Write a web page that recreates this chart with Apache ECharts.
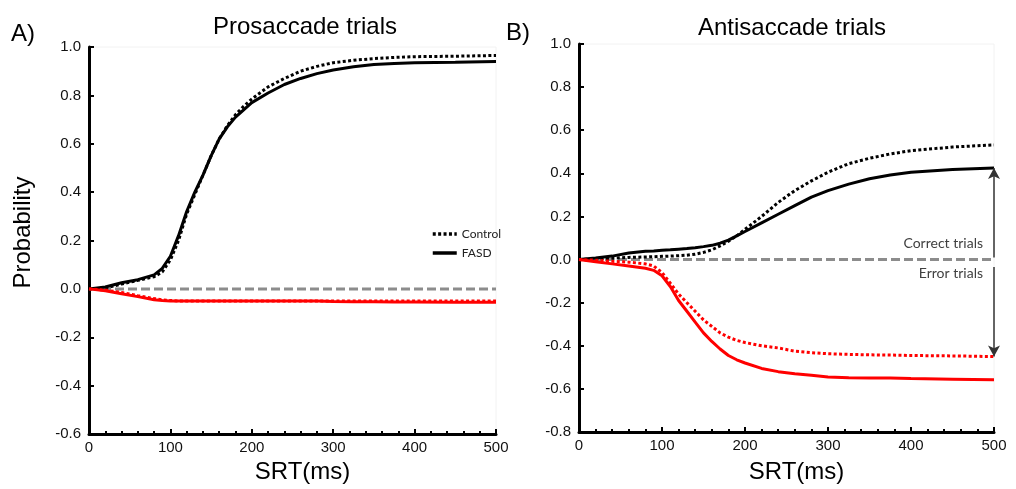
<!DOCTYPE html>
<html>
<head>
<meta charset="utf-8">
<script src="https://cdn.jsdelivr.net/npm/echarts@6/dist/echarts.min.js"></script>
<style>
  html, body { margin: 0; padding: 0; background: #fff; }
  #chart { width: 1016px; height: 489px; }
</style>
</head>
<body>
<div id="chart"></div>
<script>
// ---- Data ----
const srt = [0, 20, 40, 60, 80, 90, 100, 110, 120, 130, 140, 150, 160, 170, 180, 190, 200, 220, 240, 260, 280, 300, 325, 350, 375, 400, 450, 500];

// Panel A: Prosaccade trials
const proControlCorrect = [0, 0.004, 0.02, 0.035, 0.05, 0.07, 0.12, 0.2, 0.31, 0.39, 0.47, 0.55, 0.62, 0.675, 0.72, 0.755, 0.785, 0.835, 0.87, 0.9, 0.92, 0.935, 0.945, 0.952, 0.957, 0.96, 0.962, 0.965];
const proFasdCorrect    = [0, 0.008, 0.025, 0.038, 0.058, 0.085, 0.135, 0.22, 0.32, 0.4, 0.47, 0.55, 0.62, 0.67, 0.71, 0.74, 0.77, 0.81, 0.845, 0.87, 0.89, 0.905, 0.918, 0.928, 0.932, 0.935, 0.937, 0.94];
const proControlError   = [0, -0.005, -0.015, -0.028, -0.04, -0.045, -0.048, -0.05, -0.05, -0.05, -0.05, -0.05, -0.05, -0.05, -0.05, -0.05, -0.05, -0.05, -0.05, -0.05, -0.05, -0.05, -0.05, -0.05, -0.05, -0.05, -0.05, -0.05];
const proFasdError      = [0, -0.008, -0.02, -0.032, -0.045, -0.048, -0.05, -0.05, -0.05, -0.05, -0.05, -0.05, -0.05, -0.05, -0.05, -0.05, -0.05, -0.05, -0.05, -0.05, -0.05, -0.052, -0.053, -0.053, -0.054, -0.054, -0.055, -0.055];

// Panel B: Antisaccade trials
const antiControlCorrect = [0, 0.003, 0.006, 0.01, 0.012, 0.013, 0.015, 0.016, 0.018, 0.02, 0.025, 0.033, 0.045, 0.063, 0.085, 0.11, 0.14, 0.2, 0.265, 0.32, 0.365, 0.405, 0.445, 0.47, 0.49, 0.505, 0.522, 0.532];
const antiFasdCorrect    = [0, 0.007, 0.016, 0.03, 0.038, 0.04, 0.043, 0.045, 0.048, 0.051, 0.055, 0.06, 0.066, 0.076, 0.09, 0.11, 0.13, 0.17, 0.21, 0.25, 0.29, 0.32, 0.35, 0.375, 0.392, 0.405, 0.418, 0.425];
const antiControlError   = [0, -0.003, -0.008, -0.012, -0.02, -0.03, -0.06, -0.11, -0.16, -0.2, -0.24, -0.28, -0.31, -0.34, -0.36, -0.375, -0.385, -0.4, -0.41, -0.425, -0.432, -0.437, -0.44, -0.442, -0.443, -0.445, -0.447, -0.45];
const antiFasdError      = [0, -0.01, -0.02, -0.03, -0.04, -0.05, -0.075, -0.125, -0.19, -0.24, -0.29, -0.34, -0.38, -0.415, -0.445, -0.465, -0.48, -0.505, -0.52, -0.53, -0.537, -0.545, -0.548, -0.55, -0.55, -0.552, -0.555, -0.558];

// Reference zero line and annotation arrows
const zeroLineX = [0, 500];
const zeroLineY = [0, 0];
const arrowCorrect = [0.01, 0.425];   // from near 0 up to FASD correct end
const arrowError = [-0.035, -0.45];   // from near 0 down to Control error end
const arrowX = 500;

// Axis ticks
const xTicks = { min: 0, max: 500, interval: 100 };
const yTicksA = { min: -0.6, max: 1.0, interval: 0.2 };
const yTicksB = { min: -0.8, max: 1.0, interval: 0.2 };

// ---- Chart ----
const FONT = '"Liberation Sans", Arial, sans-serif';
const SMALL = 'Lato, "Open Sans", sans-serif';
const zip = (xs, ys) => xs.map((x, i) => [x, ys[i]]);

function xAxis(gi, gap) {
  return {
    gridIndex: gi, type: 'value', min: xTicks.min, max: xTicks.max, interval: xTicks.interval,
    axisLine: { show: true, onZero: false, lineStyle: { color: '#000', width: 3 } },
    axisTick: { show: true, inside: true, length: 5, lineStyle: { color: '#000', width: 2 } },
    minorTick: { show: true, splitNumber: 5, length: 3, lineStyle: { color: '#000', width: 2 } },
    splitLine: { show: false },
    axisLabel: { fontSize: 15, color: '#111', margin: 6, fontFamily: FONT },
    name: 'SRT(ms)', nameLocation: 'middle', nameGap: gap,
    nameTextStyle: { fontSize: 24, color: '#000', fontFamily: FONT, padding: [0, 0, 0, 20] }
  };
}
function yAxis(gi, t, withName) {
  const a = {
    gridIndex: gi, type: 'value', min: t.min, max: t.max, interval: t.interval,
    axisLine: { show: true, onZero: false, lineStyle: { color: '#000', width: 3 } },
    axisTick: { show: true, inside: true, length: 5, lineStyle: { color: '#000', width: 2 } },
    splitLine: { show: false },
    axisLabel: { fontSize: 15, color: '#111', margin: 8, fontFamily: FONT, formatter: v => v.toFixed(1) }
  };
  if (withName) {
    a.name = 'Probability';
    a.nameLocation = 'middle';
    a.nameGap = 54;
    a.nameTextStyle = { fontSize: 24, color: '#000', fontFamily: FONT, padding: [0, 0, 0, 16] };
  }
  return a;
}
function lineSeries(name, gi, ys, color, dotted) {
  return {
    name, type: 'line', xAxisIndex: gi, yAxisIndex: gi,
    data: zip(srt, ys), symbol: 'none', smooth: false, silent: true,
    itemStyle: { color },
    lineStyle: { color, width: 3, type: dotted ? [3, 2.4] : 'solid', cap: 'butt' },
    z: 3
  };
}
function zeroSeries(gi, extra) {
  return Object.assign({
    name: 'zero', type: 'line', xAxisIndex: gi, yAxisIndex: gi,
    data: zip(zeroLineX, zeroLineY), symbol: 'none', silent: true,
    lineStyle: { color: '#8c8c8c', width: 3, type: [9, 4] }, z: 2
  }, extra || {});
}

const option = {
  animation: false,
  backgroundColor: '#fff',
  title: [
    { text: 'Prosaccade trials', left: 300, top: 10, textAlign: 'center',
      textStyle: { fontSize: 24, fontWeight: 'normal', color: '#000', fontFamily: FONT } },
    { text: 'Antisaccade trials', left: 787, top: 11, textAlign: 'center',
      textStyle: { fontSize: 24, fontWeight: 'normal', color: '#000', fontFamily: FONT } }
  ],
  legend: {
    data: ['Control', 'FASD'], orient: 'vertical', left: 426, top: 223,
    itemWidth: 24, itemHeight: 14, itemGap: 7, selectedMode: false,
    itemStyle: { color: 'transparent', borderColor: 'transparent', borderWidth: 0 },
    lineStyle: { width: 3.5 },
    textStyle: { fontSize: 12, color: '#222', fontFamily: SMALL }
  },
  grid: [
    { left: 89, top: 47, width: 407, height: 387, show: true, borderColor: '#f2f2f2', borderWidth: 1 },
    { left: 579, top: 44, width: 415, height: 389, show: true, borderColor: '#f2f2f2', borderWidth: 1 }
  ],
  xAxis: [xAxis(0, 25), xAxis(1, 28)],
  yAxis: [yAxis(0, yTicksA, true), yAxis(1, yTicksB, false)],
  series: [
    zeroSeries(0),
    lineSeries('Control', 0, proControlCorrect, '#000', true),
    lineSeries('FASD', 0, proFasdCorrect, '#000', false),
    lineSeries('Control error', 0, proControlError, '#ff0000', true),
    lineSeries('FASD error', 0, proFasdError, '#ff0000', false),
    zeroSeries(1, {
      markLine: {
        silent: true, symbol: ['none', 'arrow'], symbolSize: [9, 11],
        label: { show: false },
        lineStyle: { color: '#333', width: 1.5, type: 'solid' },
        data: [
          [{ coord: [arrowX, arrowCorrect[0]] }, { coord: [arrowX, arrowCorrect[1]] }],
          [{ coord: [arrowX, arrowError[0]] }, { coord: [arrowX, arrowError[1]] }]
        ]
      }
    }),
    lineSeries('Control', 1, antiControlCorrect, '#000', true),
    lineSeries('FASD', 1, antiFasdCorrect, '#000', false),
    lineSeries('Control error', 1, antiControlError, '#ff0000', true),
    lineSeries('FASD error', 1, antiFasdError, '#ff0000', false)
  ],
  graphic: [
    { type: 'text', left: 11, top: 22, style: { text: 'A)', font: '24px ' + FONT, fill: '#000' } },
    { type: 'text', left: 506, top: 21, style: { text: 'B)', font: '24px ' + FONT, fill: '#000' } },
    { type: 'text', right: 33, top: 236, style: { text: 'Correct trials', font: '14px ' + SMALL, fill: '#404040' } },
    { type: 'text', right: 33, top: 266, style: { text: 'Error trials', font: '14px ' + SMALL, fill: '#404040' } }
  ]
};

const chart = echarts.init(document.getElementById('chart'), null, { renderer: 'canvas' });
chart.setOption(option);
</script>
</body>
</html>
